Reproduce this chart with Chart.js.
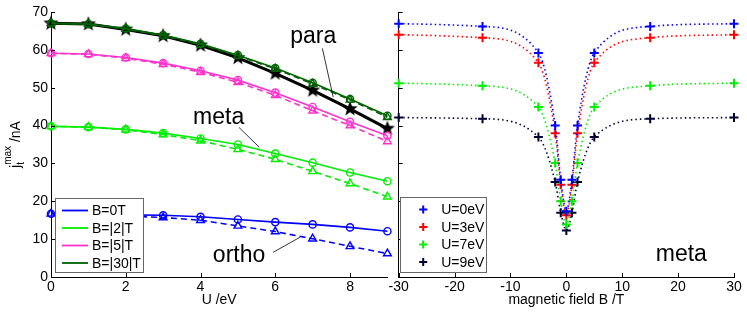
<!DOCTYPE html>
<html>
<head>
<meta charset="utf-8">
<script src="https://cdn.jsdelivr.net/npm/chart.js@4"></script>
<style>
  body { margin: 0; background: #fff; }
  #wrap { position: relative; width: 747px; height: 313px; overflow: hidden; }
  .panel { position: absolute; top: 0; }
  #left { left: 0; }
  #right { left: 380px; }
</style>
</head>
<body>
<div id="wrap">
  <div class="panel" id="left"><canvas id="leftChart" width="400" height="313"></canvas></div>
  <div class="panel" id="right"><canvas id="rightChart" width="367" height="313"></canvas></div>
</div>
<script>
// left panel: current vs interaction U
const uValues = [0, 1, 2, 3, 4, 5, 6, 7, 8, 9];
const uTicks = [0, 2, 4, 6, 8];
const jTicks = [0, 10, 20, 30, 40, 50, 60, 70];

const orthoSolid  = [16.7, 16.6, 16.4, 16.3, 15.9, 15.2, 14.5, 13.9, 13.1, 12.1];
const orthoDashed = [16.7, 16.4, 16.1, 15.7, 15.0, 13.5, 12.0, 10.1, 8.1, 6.2];
const metaSolid   = [39.8, 39.6, 39.0, 38.0, 36.6, 35.0, 32.6, 30.2, 27.6, 25.3];
const metaDashed  = [39.8, 39.6, 38.9, 37.6, 36.0, 33.7, 31.1, 27.9, 24.7, 21.2];
const pinkSolid   = [59.1, 58.9, 58.0, 56.5, 54.5, 52.0, 48.7, 44.9, 41.0, 37.3];
const pinkDashed  = [59.1, 58.8, 57.8, 56.2, 54.1, 51.4, 48.0, 43.9, 40.0, 35.8];
const paraSolid   = [67.0, 66.8, 65.6, 63.9, 61.6, 58.6, 55.2, 51.3, 47.0, 42.6];
const paraDashed  = [67.0, 66.8, 65.5, 63.7, 61.4, 58.4, 55.0, 51.0, 46.8, 42.2];
const paraStars   = [67.0, 66.8, 65.4, 63.7, 61.2, 57.9, 53.8, 49.3, 44.4, 39.2];

const leftLegend = ['B=0T', 'B=|2|T', 'B=|5|T', 'B=|30|T'];

// right panel: current vs magnetic field (meta)
const bValues = [-30, -15, -5, -2, -1, 0, 1, 2, 5, 15, 30];
const bTicks = [-30, -20, -10, 0, 10, 20, 30];
const u0 = [66.9, 66.2, 59.2, 40.0, 25.7, 17.4, 25.7, 40.0, 59.2, 66.2, 66.9];
const u3 = [64.0, 63.2, 56.6, 38.0, 24.4, 16.3, 24.4, 38.0, 56.6, 63.2, 64.0];
const u7 = [51.2, 50.5, 44.9, 30.1, 20.0, 13.9, 20.0, 30.1, 44.9, 50.5, 51.2];
const u9 = [42.1, 41.8, 37.0, 25.1, 17.0, 12.3, 17.0, 25.1, 37.0, 41.8, 42.1];
const rightLegend = ['U=0eV', 'U=3eV', 'U=7eV', 'U=9eV'];

const BLUE = '#0000ff', GREEN = '#00ee00', PINK = '#ff33cc', DKGREEN = '#006400';
const RED = '#ff0000', NAVY = '#000033';
const FONT = '"Liberation Sans", Arial, Helvetica, sans-serif';

Chart.defaults.font.family = FONT;
Chart.defaults.font.size = 14;
Chart.defaults.color = '#000';

// filled five point star marker
function makeStar(r) {
  const c = document.createElement('canvas');
  c.width = c.height = r * 2 + 2;
  const g = c.getContext('2d');
  g.translate(r + 1, r + 1);
  g.beginPath();
  for (let i = 0; i < 10; i++) {
    const rad = i % 2 ? r * 0.42 : r;
    const a = -Math.PI / 2 + i * Math.PI / 5;
    g.lineTo(rad * Math.cos(a), rad * Math.sin(a));
  }
  g.closePath();
  g.fillStyle = '#000';
  g.fill();
  return c;
}
const star = makeStar(8);

function pts(xs, ys) {
  return xs.map((x, i) => ({ x: x, y: ys[i] }));
}

function solidSet(data, color) {
  return { data: pts(uValues, data), borderColor: color, backgroundColor: 'rgba(0,0,0,0)',
    borderWidth: 1.6, pointStyle: 'circle', pointRadius: 3.6, pointBorderWidth: 1.4,
    pointBorderColor: color, tension: 0, clip: false };
}
function dashedSet(data, color) {
  return { data: pts(uValues, data), borderColor: color, backgroundColor: 'rgba(0,0,0,0)',
    borderWidth: 1.6, borderDash: [6, 4], pointStyle: 'triangle', pointRadius: 4.5,
    pointBorderWidth: 1.4, pointBorderColor: color, tension: 0, clip: false };
}
function dottedSet(data, color) {
  return { data: pts(bValues, data), borderColor: color, backgroundColor: color,
    borderWidth: 1.6, borderDash: [1.5, 3], pointStyle: 'cross', pointRadius: 4.5,
    pointBorderWidth: 2, pointBorderColor: color, cubicInterpolationMode: 'monotone', clip: false };
}

// ticks pointing into the plot, like the original axes
const inwardTicks = {
  id: 'inwardTicks',
  afterDatasetsDraw(chart) {
    const { ctx, chartArea: a, scales: { x, y } } = chart;
    ctx.save();
    ctx.strokeStyle = '#000';
    ctx.lineWidth = 1;
    ctx.beginPath();
    x.ticks.forEach(t => {
      const px = Math.round(x.getPixelForValue(t.value)) + 0.5;
      ctx.moveTo(px, a.bottom);
      ctx.lineTo(px, a.bottom - 4);
    });
    y.ticks.forEach(t => {
      const py = Math.round(y.getPixelForValue(t.value)) + 0.5;
      ctx.moveTo(a.left, py);
      ctx.lineTo(a.left + 4, py);
    });
    ctx.stroke();
    ctx.restore();
  }
};

// text labels with leader lines, placed in data coordinates
const notes = {
  id: 'notes',
  afterDatasetsDraw(chart, args, opts) {
    const { ctx, scales: { x, y } } = chart;
    ctx.save();
    ctx.font = '23px ' + FONT;
    ctx.fillStyle = '#000';
    ctx.strokeStyle = '#000';
    ctx.lineWidth = 0.8;
    ctx.textBaseline = 'alphabetic';
    opts.items.forEach(n => {
      ctx.fillText(n.text, x.getPixelForValue(n.x), y.getPixelForValue(n.y));
      if (n.line) {
        ctx.beginPath();
        ctx.moveTo(x.getPixelForValue(n.line[0]), y.getPixelForValue(n.line[1]));
        ctx.lineTo(x.getPixelForValue(n.line[2]), y.getPixelForValue(n.line[3]));
        ctx.stroke();
      }
    });
    ctx.restore();
  }
};

// boxed legend inside the lower left corner of the axes
const boxLegend = {
  id: 'boxLegend',
  afterDraw(chart, args, opts) {
    const { ctx, chartArea: a } = chart;
    const left = a.left + opts.dx, top = a.bottom - opts.h - 5;
    ctx.save();
    ctx.fillStyle = '#fff';
    ctx.fillRect(left, top, opts.w, opts.h);
    ctx.strokeStyle = '#666';
    ctx.lineWidth = 1;
    ctx.strokeRect(Math.round(left) + 0.5, Math.round(top) + 0.5, opts.w, opts.h);
    ctx.font = '14px ' + FONT;
    ctx.textBaseline = 'middle';
    ctx.fillStyle = '#000';
    opts.labels.forEach((lab, i) => {
      const cy = top + 12.5 + i * 17.5;
      const col = opts.colors[i];
      ctx.strokeStyle = col;
      ctx.lineWidth = opts.marker ? 2 : 1.8;
      ctx.beginPath();
      if (opts.marker) {
        const mx = left + 23;
        ctx.moveTo(mx - 4, cy); ctx.lineTo(mx + 4, cy);
        ctx.moveTo(mx, cy - 4); ctx.lineTo(mx, cy + 4);
      } else {
        ctx.moveTo(left + 7, cy); ctx.lineTo(left + 33, cy);
      }
      ctx.stroke();
      ctx.fillText(lab, left + opts.textX, cy + 1);
    });
    ctx.restore();
  }
};

// y axis title with sub- and superscript
const yTitle = {
  id: 'yTitle',
  afterDraw(chart) {
    const { ctx, chartArea: a } = chart;
    ctx.save();
    ctx.translate(20, (a.top + a.bottom) / 2);
    ctx.rotate(-Math.PI / 2);
    ctx.fillStyle = '#000';
    ctx.textBaseline = 'alphabetic';
    const big = '14px ' + FONT, small = '10px ' + FONT;
    ctx.font = big; const wj = ctx.measureText('j').width;
    ctx.font = small; const wm = ctx.measureText('max').width;
    ctx.font = big; const wn = ctx.measureText(' /nA').width;
    let x0 = -(wj + wm + wn) / 2;
    ctx.font = big; ctx.fillText('j', x0, 0);
    ctx.font = small;
    ctx.fillText('t', x0 + wj, 4);
    ctx.fillText('max', x0 + wj, -9);
    ctx.font = big; ctx.fillText(' /nA', x0 + wj + wm, 0);
    ctx.restore();
  }
};

function yScale(width, showLabels) {
  return {
    type: 'linear', min: 0, max: 70,
    afterBuildTicks: s => { s.ticks = jTicks.map(v => ({ value: v })); },
    afterFit: s => { s.width = width; },
    grid: { drawOnChartArea: false, drawTicks: false },
    border: { display: true, color: '#000', width: 1 },
    ticks: { display: showLabels, padding: 3, font: { size: 14 } }
  };
}

new Chart(document.getElementById('leftChart'), {
  type: 'line',
  data: {
    datasets: [
      solidSet(orthoSolid, BLUE), dashedSet(orthoDashed, BLUE),
      solidSet(metaSolid, GREEN), dashedSet(metaDashed, GREEN),
      solidSet(pinkSolid, PINK), dashedSet(pinkDashed, PINK),
      solidSet(paraSolid, DKGREEN), dashedSet(paraDashed, DKGREEN),
      { data: pts(uValues, paraStars), borderColor: '#000', borderWidth: 3,
        pointStyle: star, tension: 0, clip: false }
    ]
  },
  options: {
    responsive: false,
    animation: false,
    layout: { padding: { top: 12, right: 12.6, left: 0, bottom: 0 } },
    plugins: {
      legend: { display: false },
      tooltip: { enabled: false },
      boxLegend: { labels: leftLegend, colors: [BLUE, GREEN, PINK, DKGREEN],
        dx: 4, w: 88, h: 74, textX: 37, marker: false },
      notes: { items: [
        { text: 'para', x: 6.4, y: 61.7, line: [7.26, 60.4, 7.55, 47.5] },
        { text: 'meta', x: 3.8, y: 40.3, line: [5.03, 39.5, 5.57, 34.3] },
        { text: 'ortho', x: 4.33, y: 4.0, line: [5.94, 6.5, 6.66, 10.5] }
      ] }
    },
    scales: {
      x: {
        type: 'linear', min: 0, max: 9,
        afterBuildTicks: s => { s.ticks = uTicks.map(v => ({ value: v })); },
        afterFit: s => { s.height = 36; },
        grid: { drawOnChartArea: false, drawTicks: false },
        border: { display: true, color: '#000', width: 1 },
        ticks: { padding: 2, maxRotation: 0 },
        title: { display: true, text: 'U /eV', padding: { top: 0, bottom: 4 } }
      },
      y: yScale(51, true)
    }
  },
  plugins: [inwardTicks, notes, boxLegend, yTitle]
});

new Chart(document.getElementById('rightChart'), {
  type: 'line',
  data: {
    datasets: [
      dottedSet(u0, BLUE), dottedSet(u3, RED), dottedSet(u7, GREEN), dottedSet(u9, NAVY)
    ]
  },
  options: {
    responsive: false,
    animation: false,
    layout: { padding: { top: 12, right: 13, left: 0, bottom: 0 } },
    plugins: {
      legend: { display: false },
      tooltip: { enabled: false },
      boxLegend: { labels: rightLegend, colors: [BLUE, RED, GREEN, NAVY],
        dx: 1.5, w: 86, h: 75, textX: 41, marker: true },
      notes: { items: [ { text: 'meta', x: 16.0, y: 4.1 } ] }
    },
    scales: {
      x: {
        type: 'linear', min: -30, max: 30,
        afterBuildTicks: s => { s.ticks = bTicks.map(v => ({ value: v })); },
        afterFit: s => { s.height = 36; },
        grid: { drawOnChartArea: false, drawTicks: false },
        border: { display: true, color: '#000', width: 1 },
        ticks: { padding: 2, maxRotation: 0 },
        title: { display: true, text: 'magnetic field B /T', padding: { top: 0, bottom: 4 } }
      },
      y: yScale(18.7, false)
    }
  },
  plugins: [inwardTicks, notes, boxLegend]
});
</script>
</body>
</html>
